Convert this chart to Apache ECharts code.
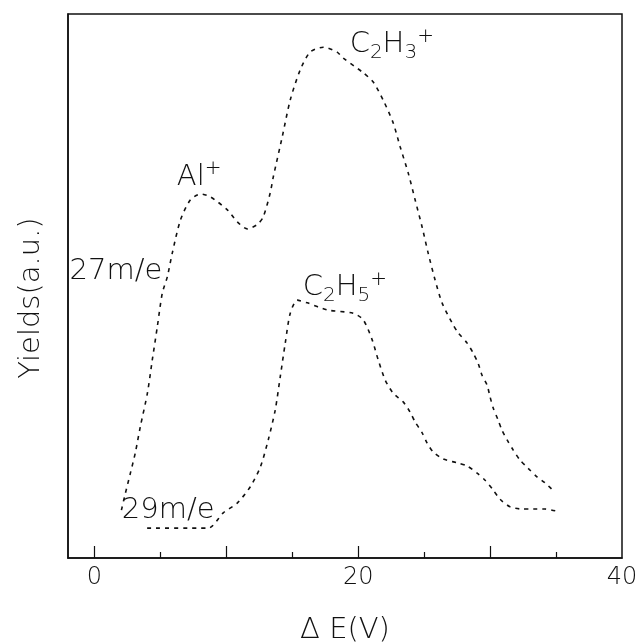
<!DOCTYPE html>
<html>
<head>
<meta charset="utf-8">
<script src="https://cdn.jsdelivr.net/npm/echarts@6/dist/echarts.min.js"></script>
<style>
  html, body { margin: 0; padding: 0; background: #fff; }
  #main { width: 640px; height: 643px; }
</style>
</head>
<body>
<div id="main"></div>
<script>
// 27 m/e (Al+ / C2H3+) yield curve : [dE, yield]
var curve27 = [
  [2.05, 8.8], [2.35, 11.9], [2.73, 15.6], [3.1, 19.3], [3.48, 24.1], [4.02, 30.3],
  [4.39, 36.4], [4.77, 42.5], [5.15, 48.7], [5.53, 51.7], [5.91, 56.1], [6.52, 62.1],
  [7.27, 65.8], [8.03, 66.9], [8.79, 66.4], [10.08, 64.0], [10.83, 61.8], [11.59, 60.5],
  [12.35, 61.3], [12.8, 62.7], [13.33, 67.1], [13.56, 70.0], [14.24, 77.4], [14.85, 84.2],
  [15.6, 89.7], [16.36, 93.0], [17.35, 93.9], [18.4, 93.0], [18.86, 91.9], [20.38, 89.2],
  [21.14, 87.5], [21.89, 84.2], [22.65, 80.0], [23.18, 75.6], [23.79, 70.8], [24.32, 65.8],
  [24.85, 60.8], [25.3, 56.1], [25.83, 51.1], [26.36, 46.9], [27.12, 43.2], [27.58, 41.4],
  [28.26, 39.5], [28.71, 37.7], [29.09, 35.8], [29.39, 33.6], [29.77, 31.8], [30.0, 29.6],
  [30.23, 27.6], [30.6, 25.4], [30.9, 23.5], [31.29, 21.7], [31.74, 19.9], [32.27, 18.0],
  [32.88, 16.5], [33.56, 14.9], [34.17, 13.8], [34.92, 12.1]
];
// 29 m/e (C2H5+) yield curve
var curve29 = [
  [4.0, 5.5], [8.64, 5.5], [9.77, 8.3], [10.83, 10.1], [11.82, 13.1], [12.58, 16.7],
  [13.18, 21.7], [13.71, 27.2], [14.09, 33.3], [14.47, 39.5], [14.85, 45.0], [15.38, 47.4],
  [16.14, 46.9], [17.65, 45.6], [19.62, 45.0], [20.38, 43.8], [21.06, 40.1], [21.52, 36.4],
  [22.05, 32.7], [22.65, 30.3], [23.41, 28.7], [23.94, 26.8], [24.32, 25.0], [24.85, 23.0],
  [25.23, 21.1], [25.68, 19.5], [26.44, 18.2], [27.5, 17.5], [28.26, 16.9], [29.02, 15.6],
  [29.62, 14.3], [30.23, 12.5], [30.76, 10.8], [31.52, 9.4], [32.42, 9.0], [33.26, 9.0],
  [34.17, 9.0], [35.08, 8.6]
];
var xLabels = [0, 20, 40];
var xTicksMajor = [0, 10, 20, 30];
var xTicksMinor = [5, 15, 25, 35];
// annotation texts, anchored at left / middle
var notes27 = [
  { text: '27m/e', at: [-1.85, 52.6] },
  { text: 'Al{p|+}', at: [6.29, 69.9] },
  { text: 'C{s|2}H{s|3}{p|+}', at: [19.39, 94.3] }
];
var notes29 = [
  { text: 'C{s|2}H{s|5}{p|+}', at: [15.83, 49.6] },
  { text: '29m/e', at: [2.12, 8.6] }
];

var FONT = '"DejaVu Sans", sans-serif';
var myChart = echarts.init(document.getElementById('main'));

function notePoints(list) {
  return {
    symbol: 'circle',
    symbolSize: 1,
    silent: true,
    itemStyle: { color: 'rgba(0,0,0,0)' },
    data: list.map(function (n) {
      return {
        coord: n.at,
        value: n.text,
        label: { formatter: n.text }
      };
    }),
    label: {
      show: true,
      position: [0, 0],
      align: 'left',
      verticalAlign: 'middle',
      color: '#111',
      fontFamily: FONT,
      fontWeight: 200,
      fontSize: 29,
      lineHeight: 36,
      rich: {
        s: { fontFamily: FONT, fontWeight: 200, fontSize: 20, lineHeight: 19, verticalAlign: 'bottom', color: '#111' },
        p: { fontFamily: FONT, fontWeight: 200, fontSize: 20, lineHeight: 19, verticalAlign: 'top', color: '#111' }
      }
    }
  };
}

var lineStyle = { color: '#111', width: 1.6, type: [4, 5] };

var option = {
  animation: false,
  backgroundColor: '#fff',
  grid: {
    left: 68, right: 18, top: 14, bottom: 85,
    outerBoundsMode: 'none',
    show: true, borderColor: '#111', borderWidth: 1.5
  },
  xAxis: [
    {
      type: 'value', min: -2, max: 40, position: 'bottom',
      name: 'Δ E(V)', nameLocation: 'middle', nameGap: 58,
      nameTextStyle: { fontFamily: FONT, fontWeight: 200, fontSize: 29, color: '#111' },
      axisLine: { show: true, onZero: false, lineStyle: { color: '#111', width: 1.5 } },
      axisTick: { show: true, inside: true, length: 12, customValues: xTicksMajor, lineStyle: { color: '#111', width: 1.2 } },
      axisLabel: { customValues: xLabels, margin: 8, fontFamily: FONT, fontWeight: 200, fontSize: 24, color: '#111' },
      splitLine: { show: false }
    },
    {
      type: 'value', min: -2, max: 40, position: 'bottom', offset: 0,
      axisLine: { show: false, onZero: false },
      axisTick: { show: true, inside: true, length: 6, customValues: xTicksMinor, lineStyle: { color: '#111', width: 1.2 } },
      axisLabel: { show: false },
      splitLine: { show: false }
    }
  ],
  yAxis: {
    type: 'value', min: 0, max: 100,
    name: 'Yields(a.u.)', nameLocation: 'middle', nameGap: 22,
    nameTextStyle: { fontFamily: FONT, fontWeight: 200, fontSize: 29, color: '#111', padding: [0, 24, 0, 0] },
    axisLine: { show: true, onZero: false, lineStyle: { color: '#111', width: 1.5 } },
    axisTick: { show: false },
    axisLabel: { show: false },
    splitLine: { show: false }
  },
  series: [
    {
      name: '27m/e', type: 'line', data: curve27, smooth: 0.25,
      showSymbol: false, lineStyle: lineStyle, markPoint: notePoints(notes27)
    },
    {
      name: '29m/e', type: 'line', data: curve29, smooth: 0.25,
      showSymbol: false, lineStyle: lineStyle, markPoint: notePoints(notes29)
    }
  ]
};

myChart.setOption(option, true);
</script>
</body>
</html>
